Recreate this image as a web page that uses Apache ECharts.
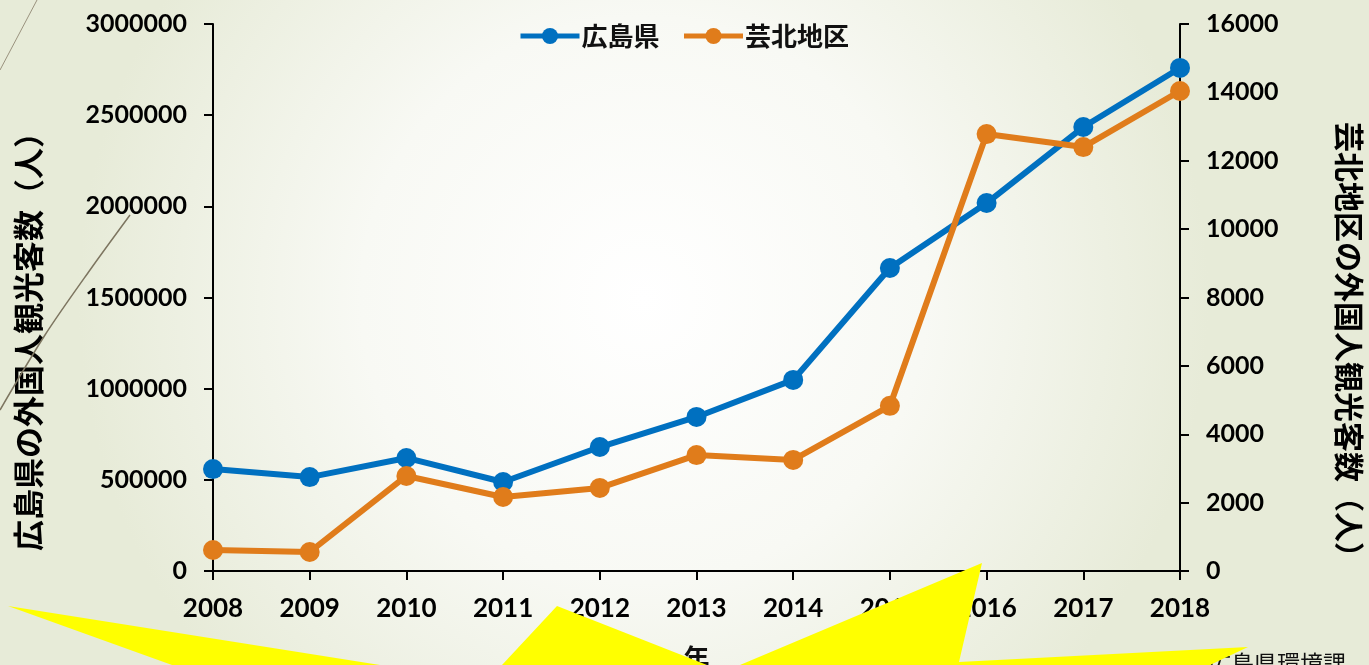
<!DOCTYPE html>
<html>
<head>
<meta charset="utf-8">
<script src="https://cdn.jsdelivr.net/npm/echarts@6/dist/echarts.min.js"></script>
<style>
  html, body { margin: 0; padding: 0; }
  #chart { width: 1369px; height: 665px; }
</style>
</head>
<body>
<div id="chart"></div>
<script>
// 年
const years = ['2008', '2009', '2010', '2011', '2012', '2013', '2014', '2015', '2016', '2017', '2018'];
// 広島県の外国人観光客数（人） - left axis
const hiroshima = [559000, 515000, 620000, 488000, 680000, 845000, 1048000, 1662000, 2018000, 2435000, 2759000];
// 芸北地区の外国人観光客数（人） - right axis
const geihoku = [614, 556, 2780, 2165, 2430, 3390, 3250, 4830, 12780, 12400, 14040];

const chart = echarts.init(document.getElementById('chart'));

const numFont = 'Lato';
const jpFont = '"Noto Sans CJK JP"';
const blue = '#0070C0';
const orange = '#E07C1B';

const option = {
  backgroundColor: {
    type: 'radial', x: 0.47, y: 0.45, r: 0.85,
    colorStops: [
      { offset: 0, color: '#ffffff' },
      { offset: 0.5, color: '#f8f9f4' },
      { offset: 1, color: '#e7ebd8' }
    ]
  },
  animation: false,
  legend: {
    top: 18,
    left: 513,
    itemWidth: 59,
    itemHeight: 20,
    itemGap: 22,
    lineStyle: { width: 5 },
    textStyle: { fontFamily: jpFont, fontWeight: 'bold', fontSize: 26, color: '#111', padding: [0, 0, 0, -3] },
    data: ['広島県', '芸北地区']
  },
  grid: { left: 213, right: 189, top: 24, bottom: 94, containLabel: false, outerBoundsMode: 'none' },
  xAxis: {
    type: 'category',
    boundaryGap: false,
    data: years,
    name: '年',
    nameLocation: 'middle',
    nameGap: 74,
    nameTextStyle: { fontFamily: jpFont, fontWeight: 'bold', fontSize: 26, color: '#111' },
    axisLine: { lineStyle: { color: '#000', width: 2 } },
    axisTick: { alignWithLabel: true, length: 9, lineStyle: { color: '#000', width: 2 } },
    axisLabel: { fontFamily: numFont, fontWeight: 'bold', fontSize: 26, color: '#000', margin: 25 }
  },
  yAxis: [
    {
      type: 'value',
      min: 0, max: 3000000, interval: 500000,
      axisLine: { show: true, lineStyle: { color: '#000', width: 2 } },
      axisTick: { show: true, length: 9, lineStyle: { color: '#000', width: 2 } },
      splitLine: { show: false },
      axisLabel: { formatter: v => String(v), fontFamily: numFont, fontWeight: 'bold', fontSize: 25, color: '#000', margin: 26 }
    },
    {
      type: 'value',
      min: 0, max: 16000, interval: 2000,
      axisLine: { show: true, lineStyle: { color: '#000', width: 2 } },
      axisTick: { show: true, length: 9, lineStyle: { color: '#000', width: 2 } },
      splitLine: { show: false },
      axisLabel: { formatter: v => String(v), fontFamily: numFont, fontWeight: 'bold', fontSize: 25, color: '#000', margin: 26 }
    }
  ],
  series: [
    {
      name: '広島県',
      type: 'line',
      yAxisIndex: 0,
      data: hiroshima,
      symbol: 'circle',
      symbolSize: 20,
      lineStyle: { width: 6, color: blue },
      itemStyle: { color: blue },
      z: 3
    },
    {
      name: '芸北地区',
      type: 'line',
      yAxisIndex: 1,
      data: geihoku,
      symbol: 'circle',
      symbolSize: 20,
      lineStyle: { width: 6, color: orange },
      itemStyle: { color: orange },
      z: 4
    }
  ],
  graphic: [
    // axis titles
    {
      type: 'text', x: 28, y: 334, rotation: Math.PI / 2,
      style: { text: '広島県の外国人観光客数（人）', font: 'bold 31px "Noto Sans CJK JP"', fill: '#000', align: 'center', verticalAlign: 'middle' }
    },
    {
      type: 'text', x: 1349, y: 347, rotation: -Math.PI / 2,
      style: { text: '芸北地区の外国人観光客数（人）', font: 'bold 30px "Noto Sans CJK JP"', fill: '#000', align: 'center', verticalAlign: 'middle' }
    },
    // source note
    {
      type: 'text', x: 1208, y: 652,
      style: { text: '広島県環境課', font: '23px "Noto Sans CJK JP"', fill: '#111', align: 'left', verticalAlign: 'top' }
    },
    // thin decorative lines
    {
      type: 'polyline', z: 50,
      shape: { points: [[0, 70], [37, 0]] },
      style: { stroke: '#9a927e', lineWidth: 1, fill: null }
    },
    {
      type: 'polyline', z: 50,
      shape: { points: [[0, 410], [45, 335], [90, 270], [130, 215]], smooth: 0.3 },
      style: { stroke: '#7d7560', lineWidth: 1.5, fill: null }
    },
    // yellow burst shapes
    {
      type: 'polygon', z: 100,
      shape: { points: [[8, 606], [380, 665], [172, 665]] },
      style: { fill: '#FFFF00' }
    },
    {
      type: 'polygon', z: 100,
      shape: { points: [[502, 665], [557, 606], [707, 665]] },
      style: { fill: '#FFFF00' }
    },
    {
      type: 'polygon', z: 100,
      shape: { points: [[740, 665], [982, 563], [959, 662], [1248, 647], [1210, 665]] },
      style: { fill: '#FFFF00' }
    }
  ]
};

chart.setOption(option);
</script>
</body>
</html>
